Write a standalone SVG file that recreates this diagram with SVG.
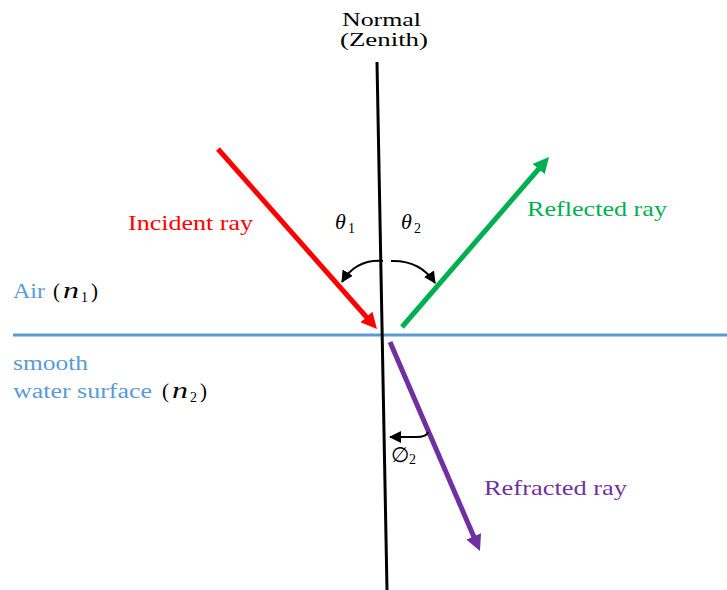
<svg xmlns="http://www.w3.org/2000/svg" width="727" height="590" viewBox="0 0 727 590">
<style>
.lbl{font-family:"Liberation Serif","Times New Roman",serif;font-size:20px}
.math{font-family:"Liberation Serif","DejaVu Serif",serif;font-size:21px;fill:#000}
.it{font-style:italic}
.sub{font-size:14px}
.mn{font-family:"Liberation Serif","DejaVu Serif",serif;font-style:italic;font-size:23px;fill:#000}
.ray{stroke-width:5;fill:none}
.arc{stroke:#000;stroke-width:2;fill:none}
</style>
<defs>
<marker id="hRed" markerUnits="userSpaceOnUse" markerWidth="16" markerHeight="16" refX="10" refY="8" orient="auto"><path d="M0,0 L16,8 L0,16 z" fill="#FF0000"/></marker>
<marker id="hGreen" markerUnits="userSpaceOnUse" markerWidth="16" markerHeight="16" refX="10" refY="8" orient="auto"><path d="M0,0 L16,8 L0,16 z" fill="#00B050"/></marker>
<marker id="hPurple" markerUnits="userSpaceOnUse" markerWidth="16" markerHeight="16" refX="10" refY="8" orient="auto"><path d="M0,0 L16,8 L0,16 z" fill="#7030A0"/></marker>
<marker id="hBlack" markerUnits="userSpaceOnUse" markerWidth="12" markerHeight="12" refX="11" refY="6" orient="auto"><path d="M0,0 L12,6 L0,12 z" fill="#000"/></marker>
</defs>
<rect width="727" height="590" fill="#fff"/>

<g id="surface">
<line x1="13" y1="335" x2="727" y2="335" stroke="#5B9BD5" stroke-width="3"/>
</g>

<g id="normal">
<line x1="377" y1="62" x2="387" y2="590" stroke="#000" stroke-width="3"/>
<text class="lbl" x="342" y="26" style="font-size:19px" textLength="79" lengthAdjust="spacingAndGlyphs">Normal</text>
<text class="lbl" x="340" y="46" style="font-size:19px" textLength="88" lengthAdjust="spacingAndGlyphs">(Zenith)</text>
</g>

<g id="connectors">
<line id="incident" class="ray" x1="218" y1="149" x2="373" y2="324.5" stroke="#FF0000" marker-end="url(#hRed)"/>
<line id="reflected" class="ray" x1="402" y1="327" x2="545.1" y2="161.5" stroke="#00B050" marker-end="url(#hGreen)"/>
<line id="refracted" class="ray" x1="390" y1="342" x2="477.6" y2="545.5" stroke="#7030A0" marker-end="url(#hPurple)"/>
<path class="arc" d="M383,261 Q356,259 342,282" marker-end="url(#hBlack)"/>
<path class="arc" d="M391,261 Q420,260 435,283" marker-end="url(#hBlack)"/>
<path class="arc" d="M428,432 Q427,437 416,437 L390,437" marker-end="url(#hBlack)"/>
</g>

<g id="incident-label">
<text class="lbl" x="128" y="230" fill="#FF0000" style="font-size:21px" textLength="125" lengthAdjust="spacingAndGlyphs">Incident ray</text>
</g>
<g id="reflected-label">
<text class="lbl" x="527" y="216" fill="#00B050" style="font-size:21px" textLength="140" lengthAdjust="spacingAndGlyphs">Reflected ray</text>
</g>
<g id="refracted-label">
<text class="lbl" x="484" y="495" fill="#7030A0" style="font-size:21px" textLength="143" lengthAdjust="spacingAndGlyphs">Refracted ray</text>
</g>

<g id="theta1">
<text class="math" y="229"><tspan x="335" class="it" style="font-size:22px">θ</tspan><tspan x="348" dy="4" class="sub">1</tspan></text>
</g>
<g id="theta2">
<text class="math" y="229"><tspan x="401" class="it" style="font-size:22px">θ</tspan><tspan x="414" dy="4" class="sub">2</tspan></text>
</g>
<g id="phi2">
<text class="math" y="462"><tspan x="391" style="font-family:'DejaVu Sans',sans-serif;font-size:21px">∅</tspan><tspan x="409" dy="2" class="sub">2</tspan></text>
</g>

<g id="air">
<text class="lbl" x="13" y="298" fill="#5B9BD5" textLength="32" lengthAdjust="spacingAndGlyphs">Air</text>
<text class="math" x="53" y="298">(</text>
<text class="mn" x="63" y="298" textLength="16" lengthAdjust="spacingAndGlyphs">n</text>
<text class="math sub" x="81" y="302">1</text>
<text class="math" x="91" y="298">)</text>
</g>

<g id="water">
<text class="lbl" x="13" y="370" fill="#5B9BD5" textLength="75" lengthAdjust="spacingAndGlyphs">smooth</text>
<text class="lbl" x="13" y="398" fill="#5B9BD5" textLength="139" lengthAdjust="spacingAndGlyphs">water surface</text>
<text class="math" x="162" y="398">(</text>
<text class="mn" x="172" y="398" textLength="16" lengthAdjust="spacingAndGlyphs">n</text>
<text class="math sub" x="190" y="402">2</text>
<text class="math" x="200" y="398">)</text>
</g>
</svg>
